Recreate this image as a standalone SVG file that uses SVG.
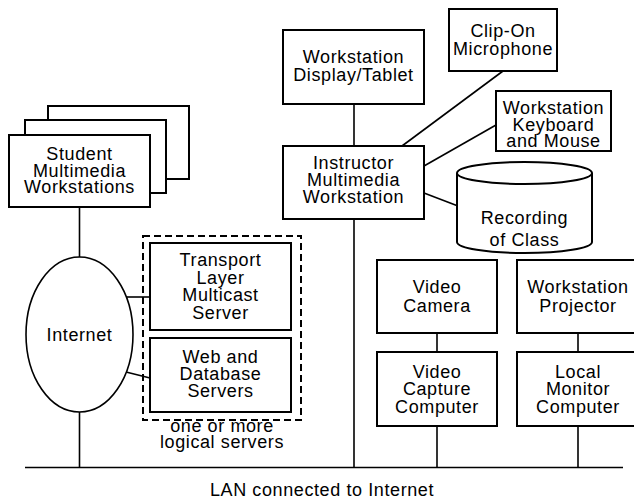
<svg xmlns="http://www.w3.org/2000/svg" width="634" height="500" viewBox="0 0 634 500">
<style>
  .box{fill:#fff;stroke:#000;stroke-width:2}
  .ln{fill:none;stroke:#000;stroke-width:1.6}
  text{font-family:"Liberation Sans",Arial,sans-serif;font-size:18px;fill:#000;text-anchor:middle;letter-spacing:0.6px}
</style>
<rect width="634" height="500" fill="#fff"/>
<g id="connectors">
  <line class="ln" x1="25" y1="467.5" x2="623" y2="467.5"/>
  <line class="ln" x1="79.5" y1="207" x2="79.5" y2="257"/>
  <line class="ln" x1="79.5" y1="412" x2="79.5" y2="467.5"/>
  <line class="ln" x1="126" y1="297" x2="150" y2="297"/>
  <line class="ln" x1="126" y1="372" x2="150" y2="378"/>
  <line class="ln" x1="354" y1="104" x2="354" y2="146"/>
  <line class="ln" x1="354" y1="219" x2="354" y2="467.5"/>
  <line class="ln" x1="402" y1="146" x2="503" y2="71"/>
  <line class="ln" x1="424" y1="166" x2="496" y2="125"/>
  <line class="ln" x1="424" y1="193" x2="458" y2="206"/>
  <line class="ln" x1="437" y1="333" x2="437" y2="352"/>
  <line class="ln" x1="437" y1="426" x2="437" y2="467.5"/>
  <line class="ln" x1="578" y1="333" x2="578" y2="352"/>
  <line class="ln" x1="578" y1="426" x2="578" y2="467.5"/>
</g>
<g id="student">
  <rect class="box" x="48" y="106" width="141" height="73"/>
  <rect class="box" x="25" y="120" width="141" height="73"/>
  <rect class="box" x="9" y="135" width="141" height="72"/>
  <text x="79.5" y="160">Student</text>
  <text x="79.5" y="176.5">Multimedia</text>
  <text x="79.5" y="193">Workstations</text>
</g>
<g id="internet">
  <ellipse cx="79.5" cy="334.5" rx="53.5" ry="77.5" fill="#fff" stroke="#000" stroke-width="1.6"/>
  <text x="79.5" y="341">Internet</text>
</g>
<g id="logical-servers">
  <rect x="143" y="236" width="158" height="184" fill="none" stroke="#000" stroke-width="2" stroke-dasharray="7,4"/>
  <text x="222" y="432">one or more</text>
  <text x="222" y="448">logical servers</text>
</g>
<g id="transport">
  <rect class="box" x="150" y="243" width="141" height="87"/>
  <text x="220.5" y="266">Transport</text>
  <text x="220.5" y="283.5">Layer</text>
  <text x="220.5" y="301">Multicast</text>
  <text x="220.5" y="318.5">Server</text>
</g>
<g id="web">
  <rect class="box" x="150" y="338" width="141" height="74"/>
  <text x="220.5" y="363">Web and</text>
  <text x="220.5" y="380">Database</text>
  <text x="220.5" y="397">Servers</text>
</g>
<g id="display">
  <rect class="box" x="283" y="30" width="141" height="74"/>
  <text x="353.5" y="63">Workstation</text>
  <text x="353.5" y="81">Display/Tablet</text>
</g>
<g id="microphone">
  <rect class="box" x="449" y="9" width="108" height="62"/>
  <text x="503" y="37">Clip-On</text>
  <text x="503" y="55">Microphone</text>
</g>
<g id="keyboard">
  <rect class="box" x="496" y="91" width="115" height="60"/>
  <text x="553.5" y="114">Workstation</text>
  <text x="553.5" y="130.5">Keyboard</text>
  <text x="553.5" y="147">and Mouse</text>
</g>
<g id="instructor">
  <rect class="box" x="283" y="146" width="141" height="73"/>
  <text x="353.5" y="169">Instructor</text>
  <text x="353.5" y="186">Multimedia</text>
  <text x="353.5" y="203">Workstation</text>
</g>
<g id="recording">
  <path d="M457,173 L457,242 A67.5,11 0 0 0 592,242 L592,173" fill="#fff" stroke="#000" stroke-width="2"/>
  <ellipse cx="524.5" cy="173" rx="67.5" ry="11" fill="#fff" stroke="#000" stroke-width="2"/>
  <text x="524.5" y="224">Recording</text>
  <text x="524.5" y="246">of Class</text>
</g>
<g id="camera">
  <rect class="box" x="377" y="260" width="120" height="73"/>
  <text x="437" y="293">Video</text>
  <text x="437" y="311.5">Camera</text>
</g>
<g id="capture">
  <rect class="box" x="377" y="352" width="120" height="74"/>
  <text x="437" y="377.5">Video</text>
  <text x="437" y="395">Capture</text>
  <text x="437" y="412.5">Computer</text>
</g>
<g id="projector">
  <rect class="box" x="517" y="260" width="122" height="73"/>
  <text x="578" y="293">Workstation</text>
  <text x="578" y="311.5">Projector</text>
</g>
<g id="monitor">
  <rect class="box" x="517" y="352" width="122" height="74"/>
  <text x="578" y="377.5">Local</text>
  <text x="578" y="395">Monitor</text>
  <text x="578" y="412.5">Computer</text>
</g>
<g id="lan-label">
  <text x="322" y="496">LAN connected to Internet</text>
</g>
</svg>
